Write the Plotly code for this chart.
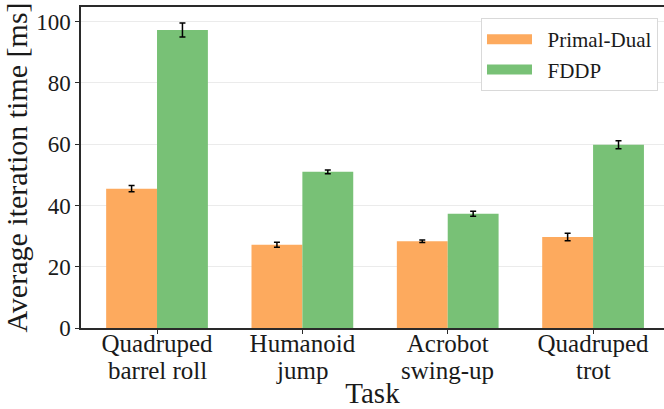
import plotly.graph_objects as go

task_line1 = ["Quadruped", "Humanoid", "Acrobot", "Quadruped"]
task_line2 = ["barrel roll", "jump", "swing-up", "trot"]
primal_dual = [45.5, 27.2, 28.3, 29.7]
primal_dual_err = [1.0, 0.8, 0.4, 1.2]
fddp = [97.3, 51.0, 37.3, 59.8]
fddp_err = [2.3, 0.6, 0.8, 1.3]
y_ticks = [0, 20, 40, 60, 80, 100]
x_title = "Task"
y_title = "Average iteration time [ms]"

ORANGE = "#FDAA5E"
GREEN = "#78C176"
FONT = "Liberation Serif, DejaVu Serif, serif"
TXT = "#1a1a1a"
NB = "\u00a0\u00a0"

x_idx = list(range(len(task_line1)))

fig = go.Figure()
fig.add_trace(go.Bar(
    x=x_idx, y=primal_dual, name="Primal-Dual", marker_color=ORANGE, marker_line_width=0,
    error_y=dict(type="data", array=primal_dual_err, color="black", thickness=1.5, width=3),
    showlegend=False))
fig.add_trace(go.Bar(
    x=x_idx, y=fddp, name="FDDP", marker_color=GREEN, marker_line_width=0,
    error_y=dict(type="data", array=fddp_err, color="black", thickness=1.5, width=3),
    showlegend=False))
# legend swatches
fig.add_trace(go.Scatter(x=[None], y=[None], mode="lines", name=NB + "Primal-Dual",
                         line=dict(color=ORANGE, width=15)))
fig.add_trace(go.Scatter(x=[None], y=[None], mode="lines", name=NB + "FDDP",
                         line=dict(color=GREEN, width=15)))

# second line of the category labels
for i, t in zip(x_idx, task_line2):
    fig.add_annotation(x=i, xref="x", y=0, yref="paper", yanchor="top",
                       yshift=-27, text=t, showarrow=False,
                       font=dict(family=FONT, size=25, color=TXT))

fig.update_layout(
    width=664, height=409,
    margin=dict(l=81, r=0, t=7, b=81),
    paper_bgcolor="white", plot_bgcolor="white",
    barmode="group", bargap=0.3, bargroupgap=0,
    font=dict(family=FONT, size=24, color=TXT),
    legend=dict(x=0.9897, y=0.9657, xanchor="right", yanchor="top",
                bgcolor="white", bordercolor="#d9d9d9", borderwidth=1,
                font=dict(family=FONT, size=21, color=TXT), itemwidth=45,
                tracegroupgap=0),
    showlegend=True,
)
fig.update_xaxes(
    range=[-0.523, 3.488], tickmode="array", tickvals=x_idx, ticktext=task_line1,
    tickfont=dict(family=FONT, size=25, color=TXT), ticklabelstandoff=-12,
    showline=True, linecolor="#2a2a2a", linewidth=1.5, mirror=True,
    ticks="outside", ticklen=4, tickcolor="#2a2a2a", showgrid=False, zeroline=False,
    automargin=False,
    title=dict(text=x_title, font=dict(family=FONT, size=29, color=TXT), standoff=45),
)
fig.update_yaxes(
    range=[0, 104.8], tickvals=y_ticks, tickfont=dict(family=FONT, size=23, color=TXT),
    showline=True, linecolor="#2a2a2a", linewidth=1.5,
    ticks="outside", ticklen=4, tickcolor="#2a2a2a",
    showgrid=True, gridcolor="#ebebeb", gridwidth=1, zeroline=False,
    automargin=False,
    title=dict(text=y_title, font=dict(family=FONT, size=30, color=TXT), standoff=4),
)

fig.write_html("out.html", post_script="document.body.style.margin='0';",
               config={"displayModeBar": False})
